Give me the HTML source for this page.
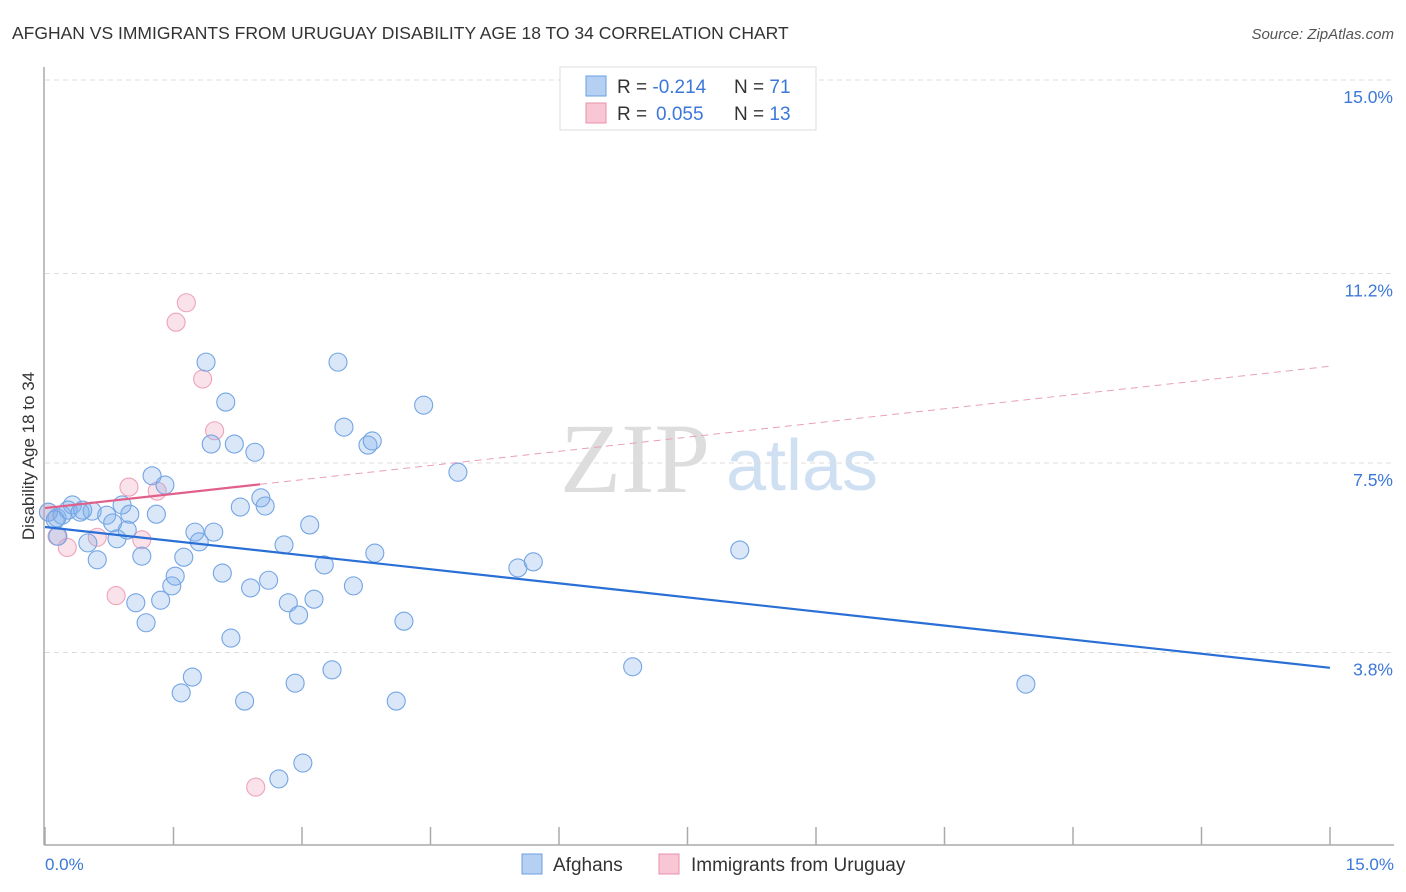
<!DOCTYPE html>
<html><head><meta charset="utf-8"><style>
body{margin:0;background:#fff;font-family:"Liberation Sans",sans-serif;}
svg{display:block}
</style></head><body>
<svg id="chart" width="1406" height="892">
<text x="12" y="39" font-size="17.5" fill="#333">AFGHAN VS IMMIGRANTS FROM URUGUAY DISABILITY AGE 18 TO 34 CORRELATION CHART</text>
<text x="1394" y="39" font-size="15" fill="#555" font-style="italic" text-anchor="end">Source: ZipAtlas.com</text>
<text x="635" y="492" font-size="100" fill="#ddd" font-family="Liberation Serif,serif" text-anchor="middle">ZIP</text>
<text x="802" y="490" font-size="72" fill="#cfe0f3" text-anchor="middle">atlas</text>
<g id="grid"></g>
<g id="axes"></g>
<g id="marks"></g>
<text transform="translate(34,456) rotate(-90)" font-size="17" fill="#333" text-anchor="middle">Disability Age 18 to 34</text>
<text x="45" y="870" font-size="17" fill="#3b78d8">0.0%</text>
<text x="1394" y="870" font-size="17" fill="#3b78d8" text-anchor="end">15.0%</text>
<g>
<rect x="560" y="67" width="256" height="63" fill="#fff" stroke="#ddd"/>
<rect x="586" y="76" width="20" height="20" fill="#b5d0f3" stroke="#6a9fe0"/>
<rect x="586" y="103" width="20" height="20" fill="#f8c6d5" stroke="#e890ab"/>
<text x="617" y="93" font-size="19" fill="#333">R = <tspan fill="#3b78d8">-0.214</tspan><tspan x="734">N = </tspan><tspan fill="#3b78d8">71</tspan></text>
<text x="617" y="120" font-size="19" fill="#333">R = <tspan fill="#3b78d8" x="656">0.055</tspan><tspan x="734">N = </tspan><tspan fill="#3b78d8">13</tspan></text>
</g>
<g>
<rect x="522" y="854" width="20" height="20" fill="#b5d0f3" stroke="#6a9fe0"/>
<text x="553" y="871" font-size="19" fill="#333">Afghans</text>
<rect x="659" y="854" width="20" height="20" fill="#f8c6d5" stroke="#e890ab"/>
<text x="691" y="871" font-size="19" fill="#333">Immigrants from Uruguay</text>
</g>
</svg>
<script>
const yTicks=[3.8,7.5,11.2,15.0];
const yTickLabels=["3.8%","7.5%","11.2%","15.0%"];
const xTicks=[0,1.5,3,4.5,6,7.5,9,10.5,12,13.5,15];
const blueX=[0.04,0.14,0.20,0.32,0.27,0.41,0.55,0.44,0.15,0.50,0.61,0.72,0.79,0.90,0.84,0.96,0.99,1.13,1.25,1.30,1.40,1.06,1.18,1.35,1.48,1.52,1.62,1.75,1.80,1.97,1.88,2.11,1.94,2.21,2.45,2.28,2.52,2.57,2.07,2.40,2.61,2.79,2.84,2.96,3.14,3.09,3.26,3.60,3.85,3.49,3.77,3.82,3.42,4.42,4.82,4.19,2.17,1.72,1.59,2.33,2.92,3.35,4.10,3.01,2.73,5.52,5.70,6.86,8.11,11.45,0.12];
const blueY=[6.54,6.43,6.48,6.68,6.58,6.54,6.56,6.58,6.07,5.94,5.61,6.48,6.33,6.68,6.02,6.19,6.50,5.68,7.25,6.50,7.07,4.77,4.38,4.82,5.10,5.29,5.66,6.15,5.96,6.15,9.47,8.69,7.87,7.87,7.71,6.64,6.82,6.66,5.35,5.06,5.21,5.90,4.77,4.53,4.84,6.29,5.51,5.10,5.74,8.20,7.85,7.93,9.47,8.63,7.32,4.41,4.08,3.32,3.01,2.85,3.20,3.46,2.85,1.64,1.33,5.45,5.57,3.52,5.80,3.18,6.39];
const pinkX=[0.04,0.14,0.26,0.61,0.98,1.31,1.13,0.83,1.53,1.65,1.84,1.98,2.46];
const pinkY=[6.54,6.07,5.85,6.05,7.03,6.95,6.00,4.91,10.25,10.63,9.14,8.13,1.17];
const blueTrend=[6.25,3.50];
const pinkTrend=[6.62,9.39];
const pinkSolidEnd=2.51;

const NS="http://www.w3.org/2000/svg";
const X=v=>45+v/15*1285;
const Y=v=>463-(v-7.5)*51.2;
function mk(tag,at,parent){const e=document.createElementNS(NS,tag);for(const k in at)e.setAttribute(k,at[k]);parent.appendChild(e);return e;}
const grid=document.getElementById('grid'),axes=document.getElementById('axes'),marks=document.getElementById('marks');
yTicks.forEach((t,i)=>{
  const y=t===15?80:Y(t);
  const l=mk('line',{x1:45,x2:1394,y1:y,y2:y,stroke:'#ddd','stroke-dasharray':'5,4'},grid);
  
  
  const tx=mk('text',{x:1393,y:y+23,'font-size':17.5,fill:'#3b78d8','text-anchor':'end'},grid);
  tx.textContent=yTickLabels[i];
  
  
});
const ya=mk('line',{x1:44,x2:44,y1:67,y2:845,stroke:'#aaa','stroke-width':1.5},axes);


const xa=mk('line',{x1:44,x2:1394,y1:845,y2:845,stroke:'#aaa','stroke-width':1.5},axes);


xTicks.forEach(t=>{
  const l=mk('line',{x1:X(t),x2:X(t),y1:827,y2:845,stroke:'#aaa','stroke-width':1.5},axes);
  
  
});
pinkX.forEach((x,i)=>{
  const c=mk('circle',{cx:X(x),cy:Y(pinkY[i]),r:9,fill:'rgba(240,160,185,0.3)',stroke:'#eda3b9','stroke-width':1.1},marks);
  
  
});
blueX.forEach((x,i)=>{
  const c=mk('circle',{cx:X(x),cy:Y(blueY[i]),r:9,fill:'rgba(130,175,235,0.3)',stroke:'#74a5e3','stroke-width':1.1},marks);
  
  
});
const bt=mk('line',{x1:X(0),y1:Y(blueTrend[0]),x2:X(15),y2:Y(blueTrend[1]),stroke:'#2a6fd6','stroke-width':2.2},marks);


const pAt=x=>pinkTrend[0]+(pinkTrend[1]-pinkTrend[0])*x/15;
const pd=mk('line',{x1:X(pinkSolidEnd),y1:Y(pAt(pinkSolidEnd)),x2:X(15),y2:Y(pinkTrend[1]),stroke:'#e8a0b8','stroke-width':1,'stroke-dasharray':'7,5'},marks);


const ps=mk('line',{x1:X(0),y1:Y(pinkTrend[0]),x2:X(pinkSolidEnd),y2:Y(pAt(pinkSolidEnd)),stroke:'#e0608a','stroke-width':2.2},marks);


</script>
</body></html>
